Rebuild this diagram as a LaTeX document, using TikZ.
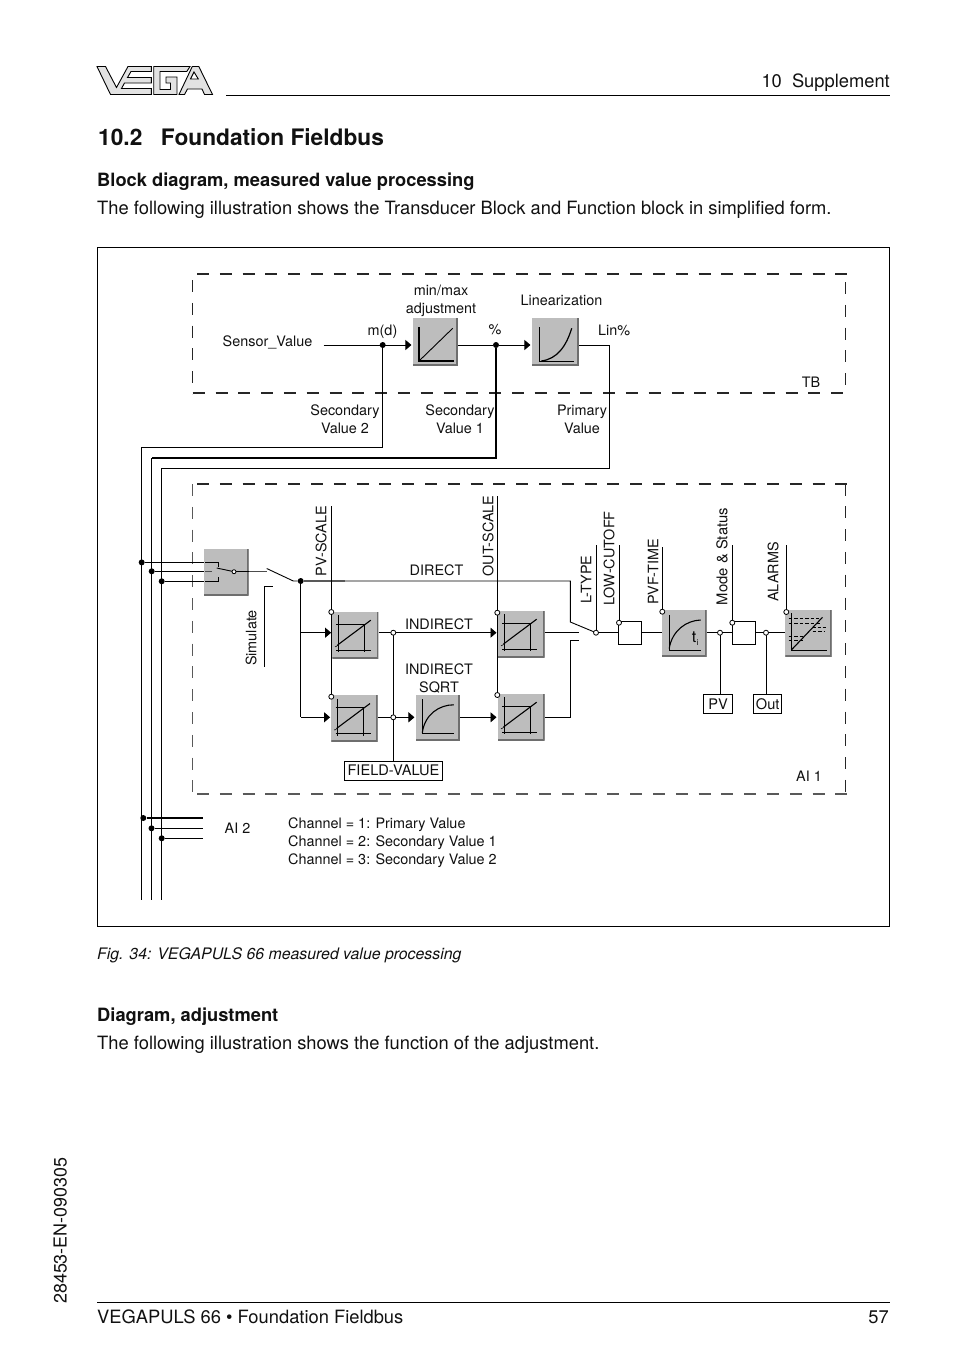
\documentclass[tikz,border=0pt]{standalone}
\usepackage{fontspec}
\setmainfont{TeX Gyre Heros}
\usetikzlibrary{arrows.meta,calc}
\definecolor{blockgray}{HTML}{BDBDBD}
\definecolor{shadowgray}{HTML}{6E6E6E}
\definecolor{logofill}{HTML}{E2E2E2}
\definecolor{ink}{HTML}{111111}
\tikzset{
  wire/.style={draw=black,line width=0.9pt},
  fatwire/.style={draw=black,line width=2pt},
  greywire/.style={draw=black!65,line width=1.6pt},
  arr/.style={wire,-{Triangle[length=6pt,width=10pt]},shorten >=1pt},
  dashbox/.style={draw=black!85,line width=1.1pt,dash pattern=on 12pt off 10.8pt},
  dashgrey/.style={draw=black!65,line width=1.5pt,dash pattern=on 12pt off 10.8pt},
  dot/.style={circle,fill=black,draw=none,inner sep=0pt,minimum size=6pt},
  odot/.style={circle,fill=white,draw=black,line width=0.8pt,inner sep=0pt,minimum size=5pt},
  lab/.style={inner sep=0pt,text=ink,font=\fontsize{14.4}{18}\selectfont,align=center},
  vlab/.style={lab,rotate=90},
  whitebox/.style={draw=black,line width=0.9pt,fill=white,inner sep=0pt,text=ink,font=\fontsize{14.6}{18}\selectfont},
  body/.style={inner sep=0pt,anchor=base west,text=ink,font=\fontsize{18.33}{22}\selectfont},
  bodyb/.style={body,font=\fontsize{18.3}{22}\selectfont\bfseries},
  blk/.style 2 args={rectangle,fill=blockgray,draw=none,inner sep=0pt,minimum width=#1pt,minimum height=#2pt},
  glyph/.style={path picture={
    \draw[shadowgray,line width=3pt] (path picture bounding box.north east) -- (path picture bounding box.south east) -- (path picture bounding box.south west);
    \begin{scope}[shift={(path picture bounding box.center)},line width=0.9pt,draw=black]
    #1
    \end{scope}}},
  glin/.style={glyph={\draw[line width=1.8pt] (-16.3,-15) -- (-16.3,19) -- (18.7,19);
     \draw (-16.3,19) -- (17.4,-13.7);}},
  gcurve/.style={glyph={\draw (-16.3,-15) -- (-16.3,19) -- (18.7,19);
     \draw[line width=1.2pt] (-14,19) .. controls (2,17) and (11,4) .. (16.4,-13.7);}},
  gscale/.style={glyph={\draw (-17,-20) -- (-17,17) (-19,15) -- (16,15) (-19,-11) -- (10,-11) (9,-11) -- (9,17);
     \draw[line width=1.1pt] (-20,11.5) -- (15.5,-15);
     \fill (-19.5,9.5) circle (1.6pt);}},
  gsqrt/.style={glyph={\draw (-15.5,-18.5) -- (-15.5,15.5) -- (16.5,15.5);
     \draw[line width=1.1pt] (-15.5,15) .. controls (-13,-4) and (2,-13) .. (16,-13);}},
  gtime/.style={glyph={\draw (-15,-18.5) -- (-15,16.5) -- (16.5,16.5);
     \draw[line width=1.1pt] (-15,15) .. controls (-12,-3) and (2,-13) .. (16.5,-13.5);
     \node[inner sep=0pt,font=\fontsize{16}{18}\selectfont] at (10,4) {t};
     \node[inner sep=0pt,font=\fontsize{8}{9}\selectfont] at (13.3,9.5) {i};}},
  galarm/.style={glyph={\draw (-17,-20) -- (-17,17) -- (18,17);
     \draw[line width=1.1pt] (-17,16.5) -- (14,-16);
     \draw[dashed,dash pattern=on 3.5pt off 2pt,line width=0.8pt] (-20,-15) -- (10,-15) (-20,-10) -- (12,-10) (-20,3.4) -- (-5,3.4) (-20,6.7) -- (-5,6.7) (4,-2.3) -- (16,-2.3);
     \draw[dashed,dash pattern=on 3.5pt off 1.5pt,line width=1.4pt] (4,-5.6) -- (18,-5.6);}},
}
\begin{document}
\begin{tikzpicture}[x=1pt,y=-1pt]
\useasboundingbox (0,0) rectangle (954,1354);
\fill[white] (0,0) rectangle (954,1354);

% logo
\begin{scope}[line width=0.9pt,draw=black,fill=logofill]
\filldraw (97,66.5) -- (105.5,66.5) -- (116.5,87.5) -- (128,66.5) -- (151.3,66.5) -- (151.3,71.5) -- (131,71.5) -- (127.5,77.5) -- (151.3,77.5) -- (151.3,83) -- (124.5,83) -- (121.5,88.5) -- (151.3,88.5) -- (151.3,94.5) -- (110.5,94.5) -- cycle;
\filldraw (153.7,66.5) -- (190,66.5) -- (186.8,71.5) -- (160,71.5) -- (160,89.5) -- (170.5,89.5) -- (170.5,83) -- (166,83) -- (166,77) -- (177,77) -- (177,94.5) -- (153.7,94.5) -- cycle;
\filldraw[even odd rule] (192.3,66.5) -- (198.8,66.5) -- (212.5,94.5) -- (204.5,94.5) -- (202,89) -- (187.5,89) -- (184.5,94.5) -- (179,94.5) -- cycle (194,72) -- (198.3,79) -- (190.5,79) -- cycle;
\end{scope}

% page furniture
\coordinate (headL) at (226,95); \coordinate (headR) at (890,95);
\draw[line width=0.9pt] (headL) -- (headR);
\node[body,anchor=base east] (head) at (890,88) {10\hspace{0.55em}Supplement};
\node[inner sep=0pt,anchor=base west,text=ink,font=\fontsize{22.7}{27}\selectfont\bfseries] (title) at (98,145) {10.2\hspace{0.82em}Foundation Fieldbus};
\node[bodyb] (sub1) at (97,186) {Block diagram, measured value processing};
\node[body] (txt1) at (97,214) {The following illustration shows the Transducer Block and Function block in simplified form.};
\node[draw=black,line width=0.9pt,inner sep=0pt,minimum width=792pt,minimum height=679.5pt,anchor=north west] (frame) at (97,246.8) {};
\node[body,font=\fontsize{15.85}{19}\selectfont\itshape] (cap) at (97,959) {Fig. 34: VEGAPULS 66 measured value processing};
\node[bodyb] (sub2) at (97,1021) {Diagram, adjustment};
\node[body] (txt2) at (97,1049) {The following illustration shows the function of the adjustment.};
\node[inner sep=0pt,rotate=90,anchor=base west,text=ink,font=\fontsize{17.9}{20}\selectfont] (side) at (66.5,1304) {28453-EN-090305};
\coordinate (footL) at (97,1302); \coordinate (footR) at (890,1302);
\draw[line width=0.9pt] (footL) -- (footR);
\node[body] (foot) at (97,1323) {VEGAPULS 66 • Foundation Fieldbus};
\node[body,anchor=base east] (page) at (889,1323) {57};

% dashed groups
\draw[dashbox] (197,274) -- (847,274);
\draw[dashbox] (192.7,393) -- (847,393);
\draw[dashbox] (192.5,280) -- (192.5,394);
\draw[dashbox] (845.5,282) -- (845.5,394);
\draw[dashbox] (197,484) -- (847,484);
\draw[dashgrey] (197,794) -- (847,794);
\draw[dashgrey] (192.5,484) -- (192.5,792);
\draw[dashbox] (845.5,483.5) -- (845.5,792);

% blocks
\node[blk={45.3}{47.7},glin] (adj) at (435.3,342) {};
\node[blk={47.3}{47.7},gcurve] (lin) at (555.3,342) {};
\node[blk={44.7}{46},glyph={}] (sw) at (226.3,572) {};
\node[blk={46}{46.3},gscale] (p1) at (355.3,635.2) {};
\node[blk={46.4}{46.4},gscale] (p2) at (354.5,718.5) {};
\node[blk={44.3}{45.7},gsqrt] (sq) at (437.8,717.8) {};
\node[blk={47}{46.3},gscale] (o1) at (521.2,634.2) {};
\node[blk={47}{46.3},gscale] (o2) at (521.2,717.2) {};
\node[blk={45}{46.4},gtime] (tb) at (684.2,633.5) {};
\node[blk={46.4}{46.7},galarm] (al) at (808.5,633.3) {};
\node[whitebox,minimum width=23.4pt,minimum height=23pt] (cut) at (630,632.8) {};
\node[whitebox,minimum width=23.4pt,minimum height=23pt] (mode) at (744,632.8) {};
\node[whitebox,minimum width=28.6pt,minimum height=19.3pt] (pv) at (718,703.7) {PV};
\node[whitebox,minimum width=28pt,minimum height=19.3pt] (out) at (767.7,703.7) {Out};
\node[whitebox,minimum width=98.4pt,minimum height=19pt] (fv) at (393.5,770.8) {FIELD-VALUE};

% free wire ends
\coordinate (sens) at (323.7,345);
\coordinate (v1) at (141.7,447);
\coordinate (v2) at (151.7,458);
\coordinate (v3) at (161.7,468);
\coordinate (v1e) at (141.7,900);
\coordinate (v2e) at (151.7,900);
\coordinate (v3e) at (161.7,900);
\coordinate (lo) at (609.3,345);
\coordinate (lob) at (609.3,468);
\coordinate (sw1) at (266.7,568.5);
\coordinate (sw2) at (293.3,581);
\coordinate (swo) at (266.7,571.5);
\coordinate (dirR) at (570.3,581);
\coordinate (dirD) at (570.3,622);
\coordinate (o2R) at (570.3,717);
\coordinate (o2U) at (570.3,640.7);
\coordinate (o2E) at (579,640.7);
\coordinate (o1E) at (579,632.7);
\coordinate (pvs) at (331.3,506);
\coordinate (ous) at (497.3,496);
\coordinate (lts) at (596,545);
\coordinate (lcs) at (619,545);
\coordinate (pts) at (662.3,547);
\coordinate (mss) at (732.3,545);
\coordinate (ams) at (786.3,545);
\coordinate (ai2a) at (202.7,818);
\coordinate (ai2b) at (202.7,828.3);
\coordinate (ai2c) at (202.7,838.3);
\coordinate (simA) at (264.3,666.7);
\coordinate (simB) at (264.3,586.7);
\coordinate (simC) at (272.7,586.7);

% junctions
\node[dot] (jm) at (382.7,345) {};
\node[dot] (jp) at (496,345) {};
\node[dot] (js1) at (141.7,562.4) {};
\node[dot] (js2) at (151.7,571.3) {};
\node[dot] (js3) at (161.7,581.3) {};
\node[dot] (jo) at (300.7,581) {};
\node[dot] (ja1) at (143.3,818) {};
\node[dot] (ja2) at (151.5,828.3) {};
\node[dot] (ja3) at (161.7,838.3) {};

% wires
\draw[arr] (sens) -- (adj.west |- sens);
\draw[wire] (adj.east |- jp) -- (jp);
\draw[arr] (jp) -- (lin.west |- jp);
\draw[wire] (lin.east |- lo) -- (lo) -- (lob) -- (v3) -- (v3e);
\draw[wire] (jm) |- (v1) -- (v1e);
\draw[fatwire] (jp) |- (v2);
\draw[wire] (v2) -- (v2e);
\draw[wire] (js1) -- (sw.west |- js1);
\draw[wire] (js2) -- (sw.west |- js2);
\draw[wire] (js3) -- (sw.west |- js3);
\draw[wire,black!70] (sw.east |- swo) -- (swo);
\draw[wire] (sw1) -- (sw2) -- (jo);
\draw[greywire] (jo) -- (345,581);
\draw[wire] (345,581) -- (dirR) -- (dirD) -- (596,632.7);
\draw[wire] (simC) -- (simB) -- (simA);
\coordinate (b1) at (300.7,632.7);
\coordinate (b2) at (300.7,717.3);
\draw[wire] (jo) -- (b2);
\draw[arr] (b1) -- (p1.west |- b1);
\draw[arr] (b2) -- (p2.west |- b2);
\coordinate (m1) at (393.3,632.7);
\coordinate (m2) at (393.3,717.3);
\draw[arr] (p1.east |- m1) -- (o1.west |- m1);
\draw[arr] (p2.east |- m2) -- (sq.west |- m2);
\draw[arr] (sq.east |- m2) -- (o2.west |- m2);
\draw[wire] (m1) -- (fv.north -| m1);
\draw[wire] (o1.east |- o1E) -- (o1E);
\draw[wire] (o2.east |- o2R) -- (o2R) -- (o2U) -- (o2E);
\draw[wire] (pvs) -- (331.3,696.7);
\draw[wire] (ous) -- (497.3,695);
\draw[wire] (lts) -- (596,632.7);
\draw[wire] (lcs) -- (619,622.7);
\draw[wire] (596,632.7) -- (cut.west |- 596,632.7);
\draw[wire] (cut.east) -- (tb.west |- cut.east);
\draw[wire] (tb.east |- mode.west) -- (mode.west);
\draw[wire] (mode.east) -- (al.west |- mode.east);
\draw[wire] (pts) -- (662.3,611.7);
\draw[wire] (mss) -- (732.3,622.7);
\draw[wire] (ams) -- (786.3,612);
\coordinate (r1) at (720,632.7);
\coordinate (r2) at (766,632.7);
\draw[wire] (r1) -- (pv.north -| r1);
\draw[wire] (r2) -- (out.north -| r2);
\draw[line width=1.9pt] (ja1) -- (ai2a);
\draw[wire] (ja2) -- (ai2b);
\draw[wire] (ja3) -- (ai2c);

% switch block details
\draw[line width=0.8pt] (205,562.3) -- (218.5,562.3) -- (218.5,566.5) (218.5,577) -- (218.5,581.3) -- (205,581.3);
\draw[line width=1.2pt,black!70] (205.3,571.3) -- (212,571.3);
\draw[line width=0.9pt] (216.7,568) -- (234,571.7);
\draw[line width=1.8pt] (234,571.5) -- (sw.east |- swo);
\node[odot,minimum size=4pt] (jsw) at (234,571.7) {};

% open junctions
\node[odot] (op1) at (331.3,612) {};
\node[odot] (op2) at (331.3,696.7) {};
\node[odot] (oo1) at (497.3,612.7) {};
\node[odot] (oo2) at (497.3,695) {};
\node[odot] (om1) at (393.3,632.7) {};
\node[odot] (om2) at (393.3,717.3) {};
\node[odot] (ol) at (596,632.7) {};
\node[odot] (oc) at (619,622.7) {};
\node[odot] (ot) at (662.3,611.7) {};
\node[odot] (oms) at (732.3,622.7) {};
\node[odot] (oa) at (786.3,612) {};
\node[odot] (or1) at (720,632.7) {};
\node[odot] (or2) at (766,632.7) {};

% labels
\node[lab] (t1) at (441,301) {min/max\\adjustment};
\node[lab] (t2) at (561.5,300) {Linearization};
\node[lab,anchor=west] (t3) at (598,330) {Lin\%};
\node[lab] (t4) at (495,330) {\%};
\node[lab] (t5) at (382.5,332) {m(d)};
\node[lab] (t6) at (267.5,342.5) {Sensor\_Value};
\node[lab] (t7) at (811,382) {TB};
\node[lab] (t8) at (345,419.3) {Secondary\\Value 2};
\node[lab] (t9) at (460,419.3) {Secondary\\Value 1};
\node[lab] (t10) at (582,419.3) {Primary\\Value};
\node[vlab] (t11) at (321,541) {PV-SCALE};
\node[vlab] (t12) at (488,536) {OUT-SCALE};
\node[vlab] (t13) at (586,579.5) {L-TYPE};
\node[vlab] (t14) at (609,558.5) {LOW-CUTOFF};
\node[vlab,font=\fontsize{14.8}{18}\selectfont] (t16) at (722,556.5) {Mode \& Status};
\node[vlab] (t15) at (653,572) {PVF-TIME};
\node[vlab] (t17) at (773,572) {ALARMS};
\node[vlab] (t18) at (251,638) {Simulate};
\node[lab] (t19) at (436.5,570) {DIRECT};
\node[lab] (t20) at (439,624) {INDIRECT};
\node[lab] (t21) at (439,678.3) {INDIRECT\\SQRT};
\node[lab] (t22) at (809,776) {AI 1};
\node[lab] (t23) at (237.5,828) {AI 2};
\node[lab,align=left,anchor=north west] (t24) at (288,817.5) {Channel = 1: Primary Value\\Channel = 2: Secondary Value 1\\Channel = 3: Secondary Value 2};
\end{tikzpicture}
\end{document}
